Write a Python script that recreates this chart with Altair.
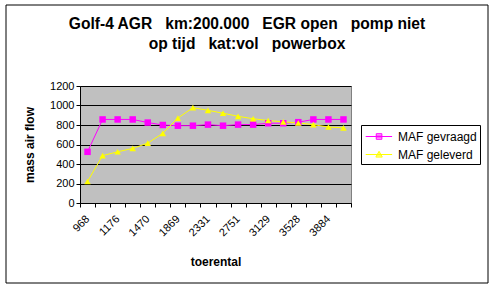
import altair as alt
import pandas as pd

NB = "\u00a0"
title_line1 = "Golf-4 AGR" + NB * 2 + " km:200.000" + NB * 2 + " EGR open" + NB * 2 + " pomp niet"
title_line2 = "op tijd" + NB * 2 + " kat:vol" + NB * 2 + " powerbox"
series_names = ["MAF gevraagd", "MAF geleverd"]
rpm_labels = ["968", "1176", "1470", "1869", "2331", "2751", "3129", "3528", "3884"]  # every 2nd category
gevraagd = [525, 857, 857, 857, 825, 800, 793, 793, 804, 793, 804, 804, 818, 818, 829, 857, 857, 857]
geleverd = [221, 486, 525, 560, 614, 714, 871, 978, 950, 921, 889, 864, 846, 832, 821, 804, 779, 771]
y_ticks = [0, 200, 400, 600, 800, 1000, 1200]

n = len(gevraagd)
rows = []
for s, vals in zip(series_names, [gevraagd, geleverd]):
    for i in range(n):
        rows.append({"idx": i, "series": s, "v": vals[i]})
df = pd.DataFrame(rows)

FONT = "Arial, Liberation Sans"
colors = ["#FF00FF", "#FFFF00"]
cscale = alt.Scale(domain=series_names, range=colors)
xscale = alt.Scale(domain=[-0.5, n - 0.5], nice=False, zero=False)
yscale = alt.Scale(domain=[0, 1200], nice=False)

label_js = "[" + ",".join("'%s'" % s for s in rpm_labels) + "]"

yaxis = alt.Axis(values=y_ticks, format="d", grid=True, gridColor="black", gridOpacity=1, gridWidth=1,
                 domainColor="black", tickColor="black", tickSize=4, labelFont=FONT,
                 labelFontSize=11, labelColor="black", labelPadding=2, title="mass air flow",
                 titleFont=FONT, titleFontSize=12, titleFontWeight="bold", titleColor="black",
                 titlePadding=13)

tick_axis = alt.Axis(orient="bottom", values=[i - 0.5 for i in range(n + 1)], labels=False, grid=False,
                     domainColor="black", tickColor="black", tickSize=4, title=None)

label_axis = alt.Axis(orient="bottom", values=list(range(0, n, 2)), ticks=False, domain=False, grid=False,
                      labelAngle=-45, labelAlign="right", labelBaseline="middle",
                      labelFont=FONT, labelFontSize=11, labelColor="black", labelPadding=14,
                      labelExpr=label_js + "[floor(datum.value/2)]",
                      title="toerental", titleFont=FONT, titleFontSize=12,
                      titleFontWeight="bold", titleColor="black", titlePadding=19)

base = alt.Chart(df)

lines = base.mark_line(strokeWidth=1).encode(
    x=alt.X("idx:Q", scale=xscale, axis=tick_axis),
    y=alt.Y("v:Q", scale=yscale, axis=yaxis),
    color=alt.Color("series:N", scale=cscale, legend=None),
    detail="series:N",
)

points = base.mark_point(filled=True, size=42, opacity=1).encode(
    x=alt.X("idx:Q", scale=xscale, axis=None),
    y=alt.Y("v:Q", scale=yscale, axis=yaxis),
    color=alt.Color("series:N", scale=cscale, legend=None),
    shape=alt.Shape("series:N", scale=alt.Scale(domain=series_names, range=["square", "triangle-up"]), legend=None),
)

# legend symbols: a line with the marker on it (units of 8px, symbol box is 16px)
legend_paths = [
    "M-0.85,0H2.45M0.47,-0.35H1.17V0.35H0.47ZM0.47,-0.17H1.17M0.47,0.17H1.17",
    "M-0.85,0H2.45M0.82,-0.4L1.22,0.32H0.42ZM0.62,0H1.02M0.52,0.17H1.12M0.72,-0.17H0.92",
]
leg = base.mark_point(filled=False, size=10, strokeWidth=1).encode(
    x=alt.X("idx:Q", scale=xscale, axis=label_axis),
    y=alt.Y("v:Q", scale=yscale, axis=yaxis),
    opacity=alt.value(0),
    color=alt.Color("series:N", scale=cscale, title=None),
    shape=alt.Shape("series:N", scale=alt.Scale(domain=series_names, range=legend_paths), title=None,
                    legend=alt.Legend(orient="none", legendX=281, legendY=39, strokeColor="black",
                                      fillColor="white", padding=3, labelFont=FONT, labelFontSize=12,
                                      labelColor="black", symbolSize=256, symbolStrokeWidth=1,
                                      symbolOpacity=1, rowPadding=3, labelOffset=17)),
)

one = pd.DataFrame({"a": [0]})
title1 = alt.Chart(one).mark_text(font=FONT, fontSize=15.6, fontWeight="bold", color="black",
                                  align="center", baseline="middle", text=title_line1).encode(
    x=alt.value(167), y=alt.value(-62))
title2 = alt.Chart(one).mark_text(font=FONT, fontSize=15.6, fontWeight="bold", color="black",
                                  align="center", baseline="middle", text=title_line2).encode(
    x=alt.value(167), y=alt.value(-42))

frame = alt.Chart(one).mark_rect(fill=None, stroke="black", strokeWidth=1).encode(
    x=alt.value(-74), x2=alt.value(408), y=alt.value(-81), y2=alt.value(197)
)

chart = alt.layer(lines, points, leg, frame, title1, title2).resolve_scale(
    x="independent", shape="independent", color="independent"
).properties(
    width=271, height=117,
    autosize=alt.AutoSizeParams(type="none"),
    padding={"left": 80, "top": 86, "right": 141, "bottom": 86},
    background="white",
).configure_view(fill="#C0C0C0", stroke="#808080")

chart.save("out.html", embed_options={"renderer": "svg", "actions": False})
